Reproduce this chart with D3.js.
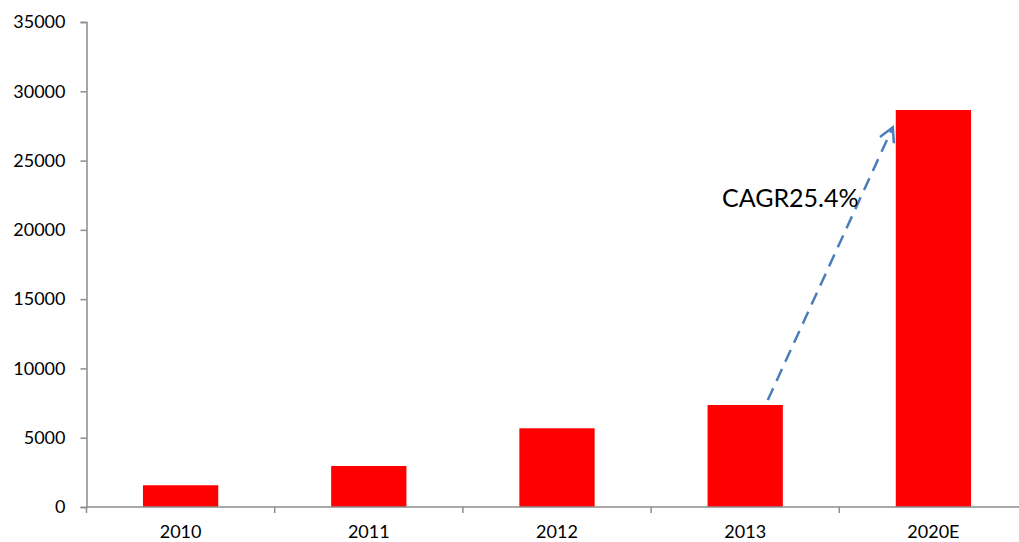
<!DOCTYPE html>
<html>
<head>
<meta charset="utf-8">
<script src="https://cdn.jsdelivr.net/npm/d3@7"></script>
<style>
  html, body { margin: 0; padding: 0; background: #fff; }
  svg { display: block; }
  text { font-family: Lato, "Open Sans", sans-serif; fill: #000; }
</style>
</head>
<body>
<div id="chart"></div>
<script>
const categories = ["2010", "2011", "2012", "2013", "2020E"];
const values = [1570, 2960, 5680, 7360, 28650];
const yTicks = [0, 5000, 10000, 15000, 20000, 25000, 30000, 35000];
const annotationText = "CAGR25.4%";
const arrowEndValue = 27400;

const W = 1019, H = 542;
const svg = d3.select("#chart").append("svg").attr("width", W).attr("height", H);

const x = d3.scaleBand().domain(categories).range([86.5, 1027.5]).paddingInner(0.6).paddingOuter(0.3);
const y = d3.scaleLinear().domain([0, 35000]).range([507, 22]);

const axisColor = "#8c8c8c";

// bars
svg.append("g").selectAll("rect").data(categories).join("rect")
  .attr("x", d => x(d))
  .attr("y", (d, i) => y(values[i]))
  .attr("width", x.bandwidth())
  .attr("height", (d, i) => y(0) - y(values[i]))
  .attr("fill", "#ff0000");

// y axis
const yAxis = svg.append("g").attr("transform", "translate(86.5,0)")
  .call(d3.axisLeft(y).tickValues(yTicks).tickSize(6).tickPadding(15).tickFormat(d3.format("d")));
yAxis.select(".domain").attr("stroke", axisColor).attr("stroke-width", 1.5);
yAxis.selectAll(".tick line").attr("stroke", axisColor).attr("stroke-width", 1.5);
yAxis.selectAll(".tick text").style("font-size", "18px").attr("fill", "#000");

// x axis
const step = x.step();
const boundaries = d3.range(categories.length + 1).map(i => 86.5 + i * step);
const xg = svg.append("g");
xg.append("line").attr("x1", 86.5).attr("x2", 1027.5).attr("y1", y(0)).attr("y2", y(0))
  .attr("stroke", axisColor).attr("stroke-width", 1.5);
xg.selectAll("line.tk").data(boundaries).join("line").attr("class", "tk")
  .attr("x1", d => d).attr("x2", d => d).attr("y1", y(0)).attr("y2", y(0) + 6)
  .attr("stroke", axisColor).attr("stroke-width", 1.5);
xg.selectAll("text").data(categories).join("text")
  .attr("x", d => x(d) + x.bandwidth() / 2)
  .attr("y", 538)
  .attr("text-anchor", "middle")
  .style("font-size", "18px")
  .text(d => d);

// annotation arrow
const x0 = x("2013") + x.bandwidth() * 0.8, y0 = y(values[3]) - 5;
const x1 = x("2020E") - 3, y1 = y(arrowEndValue);
svg.append("line").attr("x1", x0).attr("y1", y0).attr("x2", x1).attr("y2", y1)
  .attr("stroke", "#4a7ebb").attr("stroke-width", 2.5).attr("stroke-dasharray", "13,8");
const ang = Math.atan2(y1 - y0, x1 - x0);
const headLen = 16, headAng = 0.5;
const hp = [
  [x1 - headLen * Math.cos(ang - headAng), y1 - headLen * Math.sin(ang - headAng)],
  [x1, y1],
  [x1 - headLen * Math.cos(ang + headAng), y1 - headLen * Math.sin(ang + headAng)]
];
svg.append("path").attr("d", d3.line()(hp)).attr("fill", "none")
  .attr("stroke", "#4a7ebb").attr("stroke-width", 2.5);

svg.append("text").attr("x", 722).attr("y", 207).style("font-size", "25px").text(annotationText);
</script>
</body>
</html>
